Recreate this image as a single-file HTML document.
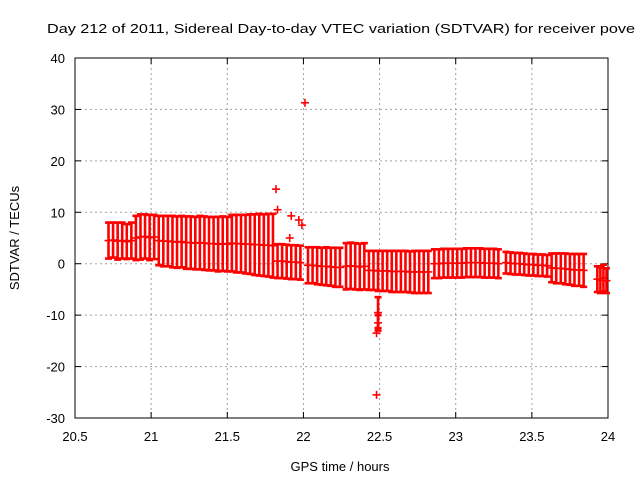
<!DOCTYPE html>
<html><head><meta charset="utf-8"><style>
html,body{margin:0;padding:0;background:#fff;width:640px;height:480px;overflow:hidden}
svg text{font-family:"Liberation Sans",sans-serif;font-size:13px;fill:#000}
</style></head><body>
<svg id="chart" width="640" height="480" xmlns="http://www.w3.org/2000/svg">
<rect width="640" height="480" fill="#fff"/>
<text x="47" y="33" font-size="13" textLength="588" lengthAdjust="spacingAndGlyphs">Day 212 of 2011, Sidereal Day-to-day VTEC variation (SDTVAR) for receiver pove</text>
<g id="grid"></g>
<g id="axes"></g>
<g id="marks"></g>
<text x="340" y="471" text-anchor="middle">GPS time / hours</text>
<text transform="translate(19,238) rotate(-90)" text-anchor="middle">SDTVAR / TECUs</text>
</svg>
<script>
const xTicks=[20.5,21,21.5,22,22.5,23,23.5,24];
const xTickLabels=["20.5","21","21.5","22","22.5","23","23.5","24"];
const yTicks=[-30,-20,-10,0,10,20,30,40];
const yTickLabels=["-30","-20","-10","0","10","20","30","40"];
const times=[20.72,20.75,20.78,20.81,20.84,20.87,20.90,20.93,20.96,20.99,21.02,21.05,21.08,21.11,21.14,21.17,21.20,21.23,21.26,21.29,21.32,21.35,21.38,21.41,21.44,21.47,21.50,21.53,21.56,21.59,21.62,21.65,21.68,21.71,21.74,21.77,21.80,21.83,21.86,21.89,21.92,21.95,21.98,22.03,22.06,22.09,22.12,22.15,22.18,22.21,22.24,22.28,22.31,22.34,22.37,22.40,22.43,22.46,22.49,22.52,22.55,22.58,22.61,22.64,22.67,22.70,22.73,22.76,22.79,22.82,22.86,22.89,22.92,22.95,22.98,23.01,23.04,23.07,23.10,23.13,23.16,23.19,23.22,23.25,23.28,23.33,23.36,23.39,23.42,23.45,23.48,23.51,23.54,23.57,23.60,23.63,23.66,23.69,23.72,23.75,23.78,23.81,23.84,23.93,23.95,23.97,23.99];
const values=[4.5,4.6,4.4,4.5,4.3,4.5,5.0,5.2,5.3,5.1,5.2,4.5,4.4,4.4,4.3,4.2,4.3,4.1,4.1,4.0,4.1,4.0,3.9,3.9,3.8,3.9,3.8,4.0,3.9,3.9,3.8,3.8,3.7,3.7,3.6,3.6,3.5,0.5,0.5,0.4,0.3,0.3,0.2,-0.3,-0.3,-0.4,-0.5,-0.5,-0.6,-0.7,-0.7,-0.5,-0.4,-0.5,-0.6,-0.5,-1.3,-1.3,-1.4,-1.4,-1.4,-1.5,-1.5,-1.5,-1.5,-1.6,-1.6,-1.6,-1.6,-1.6,0.0,0.0,0.1,0.1,0.1,0.1,0.1,0.2,0.2,0.2,0.2,0.1,0.1,0.1,0.0,0.2,0.1,0.0,0.0,-0.1,-0.2,-0.2,-0.3,-0.3,-0.4,-0.8,-0.9,-0.9,-1.0,-1.1,-1.2,-1.2,-1.3,-3.0,-3.2,-2.8,-3.3];
const errors=[3.5,3.4,3.6,3.5,3.4,3.5,4.3,4.4,4.3,4.4,4.3,4.8,4.9,4.9,5.0,5.0,5.0,5.1,5.1,5.1,5.2,5.2,5.2,5.2,5.3,5.3,5.3,5.5,5.6,5.6,5.7,5.8,5.9,6.0,6.0,6.1,6.2,3.3,3.3,3.3,3.3,3.3,3.3,3.5,3.5,3.6,3.6,3.7,3.7,3.8,3.8,4.5,4.5,4.5,4.5,4.5,3.8,3.8,3.9,3.9,3.9,4.0,4.0,4.0,4.0,4.0,4.1,4.1,4.1,4.1,2.8,2.8,2.8,2.8,2.8,2.8,2.8,2.8,2.8,2.8,2.8,2.8,2.8,2.8,2.8,2.1,2.1,2.1,2.1,2.1,2.1,2.1,2.1,2.1,2.1,2.8,2.9,2.9,3.0,3.0,3.1,3.1,3.2,2.5,2.5,2.6,2.4];
const outlierTimes=[21.82,21.83,21.92,21.97,21.99,21.91,22.01,22.48,22.49,22.49,22.48];
const outlierValues=[14.5,10.5,9.3,8.5,7.5,5.0,31.3,-25.5,-9.5,-11.5,-13.5];
const outlierErrors=[0,0,0,0,0,0,0,0,3.0,1.5,0];

const L=75,R=608,T=58,B=418;
const xMin=20.5,xMax=24,yMin=-30,yMax=40;
const X=t=>L+(t-xMin)/(xMax-xMin)*(R-L);
const Y=v=>T+(yMax-v)/(yMax-yMin)*(B-T);
const NS="http://www.w3.org/2000/svg";
function mk(tag,parent,attrs){const e=document.createElementNS(NS,tag);for(const k in attrs)e.setAttribute(k,attrs[k]);parent.appendChild(e);return e;}
const grid=document.getElementById('grid'),axes=document.getElementById('axes'),marks=document.getElementById('marks');
xTicks.forEach((t,i)=>{
  const x=X(t);
  if(i>0&&i<xTicks.length-1){const g=mk('line',grid,{x1:x,x2:x,y1:T,y2:B,stroke:'#a0a0a0','stroke-dasharray':'2,3'});
  
  }
  mk('line',axes,{x1:x,x2:x,y1:B,y2:B-6,stroke:'#000'});
  mk('line',axes,{x1:x,x2:x,y1:T,y2:T+6,stroke:'#000'});
  const tx=mk('text',axes,{x:x,y:B+23,'text-anchor':'middle'});tx.textContent=xTickLabels[i];
  
  
});
yTicks.forEach((v,i)=>{
  const y=Y(v);
  if(i>0&&i<yTicks.length-1){const g=mk('line',grid,{x1:L,x2:R,y1:y,y2:y,stroke:'#a0a0a0','stroke-dasharray':'2,3'});
  
  }
  mk('line',axes,{x1:L,x2:L+6,y1:y,y2:y,stroke:'#000'});
  mk('line',axes,{x1:R,x2:R-6,y1:y,y2:y,stroke:'#000'});
  const tx=mk('text',axes,{x:L-10,y:y+5,'text-anchor':'end'});tx.textContent=yTickLabels[i];
  
  
});
mk('rect',axes,{x:L,y:T,width:R-L,height:B-T,fill:'none',stroke:'#000'});
function errbar(t,v,e,name){
  const g=mk('g',marks,{stroke:'#f00','stroke-width':'2.6',fill:'none'});
  
  
  const x=X(t),y=Y(v);
  if(e>0){const y1=Y(v+e),y2=Y(v-e);
    mk('line',g,{x1:x,x2:x,y1:y1,y2:y2});
    mk('line',g,{x1:x-3.5,x2:x+3.5,y1:y1,y2:y1});
    mk('line',g,{x1:x-3.5,x2:x+3.5,y1:y2,y2:y2});}
  mk('line',g,{x1:x-4,x2:x+4,y1:y,y2:y,'stroke-width':'1.6'});
  mk('line',g,{x1:x,x2:x,y1:y-4,y2:y+4,'stroke-width':'1.6'});
}
times.forEach((t,i)=>errbar(t,values[i],errors[i],'error-bar-point'));
outlierTimes.forEach((t,i)=>errbar(t,outlierValues[i],outlierErrors[i],'outlier-point'));
</script>
</body></html>
